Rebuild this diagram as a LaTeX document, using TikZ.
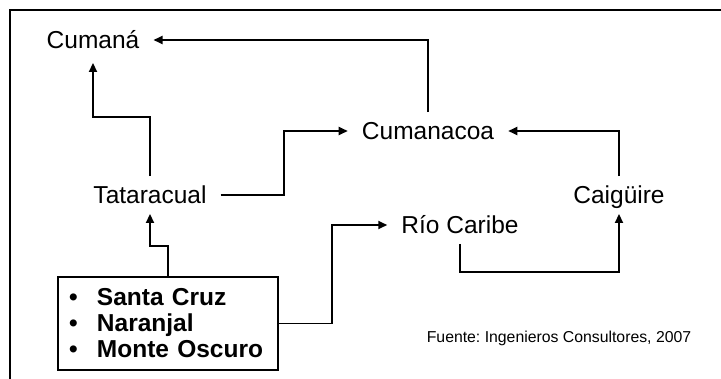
\documentclass[tikz,border=0pt]{standalone}
\usepackage{fontspec}
\setmainfont{Liberation Sans}
\usetikzlibrary{arrows.meta}
\frenchspacing
\tikzset{
  lbl/.style={font=\fontsize{24.5}{26}\selectfont, text height=17.5pt, text depth=0pt, inner xsep=14pt, inner ysep=10pt},
  conn/.style={line width=1.8pt, -{Triangle[length=9pt,width=8pt]}},
  listbox/.style={draw, line width=1.3pt, text width=198pt, inner xsep=11pt, inner ysep=0pt, minimum height=93pt, align=left, font=\fontsize{24.5}{26}\selectfont\bfseries},
  frame/.style={line width=2.8pt}
}
\begin{document}
\begin{tikzpicture}[x=1pt,y=-1pt]
\useasboundingbox (0,0) rectangle (721,378);
\draw[frame] (721,10) -- (10,10) -- (10,379);
\node[lbl] (cumana) at (93,40) {Cumaná};
\node[lbl] (cumanacoa) at (428,131) {Cumanacoa};
\node[lbl] (tataracual) at (150,195) {Tataracual};
\node[lbl] (caiguire) at (619,195) {Caigüire};
\node[lbl] (rio) at (460,225) {Río Caribe};
\node[listbox] (box) at (168,323.5) {\makebox[28pt][l]{•}Santa Cruz\\\makebox[28pt][l]{•}Naranjal\\\makebox[28pt][l]{•}Monte Oscuro};
\node[font=\fontsize{15.8}{18}\selectfont, inner sep=0pt] (fuente) at (559,338) {Fuente: Ingenieros Consultores, 2007};
\draw[conn] (cumanacoa.north) |- (cumana.east);
\draw[conn] (tataracual.north) -- ++(0,-59) -| ([yshift=-4pt]cumana.south);
\draw[conn] (tataracual.east) -- ++(63.5,0) |- (cumanacoa.west);
\draw[conn] (caiguire.north) |- (cumanacoa.east);
\draw[conn] (rio.south) -- ++(0,28) -| (caiguire.south);
\draw[conn] (box.east) -- ++(53,0) |- (rio.west);
\draw[conn] (box.north) -- ++(0,-30) -| (tataracual.south);
\end{tikzpicture}
\end{document}
